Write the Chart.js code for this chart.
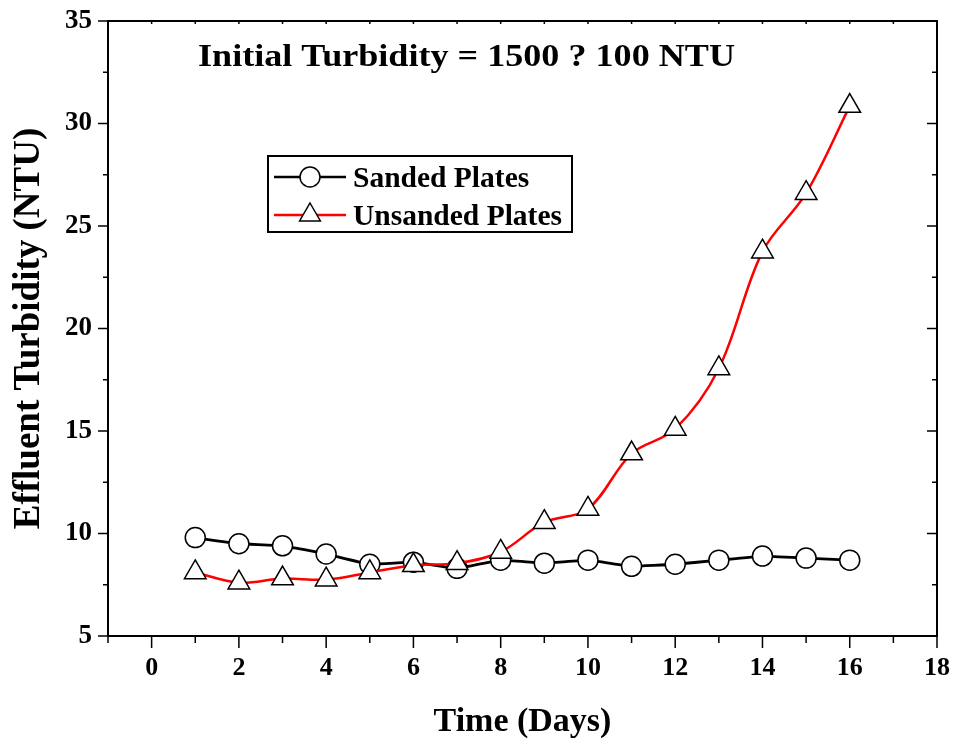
<!DOCTYPE html>
<html>
<head>
<meta charset="utf-8">
<script src="https://cdn.jsdelivr.net/npm/chart.js@4"></script>
<style>
  html, body { margin: 0; padding: 0; background: #fff; }
  #wrap { width: 953px; height: 740px; }
</style>
</head>
<body>
<div id="wrap"><canvas id="myChart" width="953" height="740"></canvas></div>
<script>
// datos
const days = [1, 2, 3, 4, 5, 6, 7, 8, 9, 10, 11, 12, 13, 14, 15, 16];
const sanded = [9.8, 9.5, 9.4, 9.0, 8.5, 8.6, 8.3, 8.7, 8.55, 8.7, 8.4, 8.5, 8.7, 8.9, 8.8, 8.7];
const unsanded = [8.1, 7.6, 7.8, 7.75, 8.1, 8.45, 8.55, 9.1, 10.55, 11.2, 13.9, 15.1, 18.05, 23.75, 26.6, 30.85];
const seriesNames = ['Sanded Plates', 'Unsanded Plates'];
const chartTitle = 'Initial Turbidity = 1500 ? 100 NTU';
const xTitle = 'Time (Days)';
const yTitle = 'Effluent Turbidity (NTU)';

const FONT = '"Liberation Serif", "Times New Roman", serif';

function toPoints(xs, ys) {
    return xs.map((x, i) => ({x: x, y: ys[i]}));
}

// sin relleno extra por las etiquetas de los bordes
function noOverhang(s) {
    s.paddingTop = 0;
    s.paddingBottom = 0;
    s.paddingLeft = 0;
    s.paddingRight = 0;
}

// marcas de los ejes, recuadro, titulo y leyenda
const extras = {
    id: 'extras',
    afterDraw(chart) {
        const ctx = chart.ctx;
        const a = chart.chartArea;
        const xs = chart.scales.x;
        const ys = chart.scales.y;
        ctx.save();
        ctx.strokeStyle = '#000';
        ctx.lineWidth = 2;
        ctx.strokeRect(a.left, a.top, a.right - a.left, a.bottom - a.top);

        ctx.lineWidth = 1.5;
        ctx.beginPath();
        xs.ticks.forEach(t => {
            const px = xs.getPixelForValue(t.value);
            const major = t.value % 2 === 0;
            ctx.moveTo(px, a.bottom);
            ctx.lineTo(px, a.bottom + (major ? 12 : 7));
            ctx.moveTo(px, a.top);
            ctx.lineTo(px, a.top + 3);
        });
        ys.ticks.forEach(t => {
            const py = ys.getPixelForValue(t.value);
            const major = t.value % 5 === 0;
            ctx.moveTo(a.left, py);
            ctx.lineTo(a.left - (major ? 10 : 5), py);
            ctx.moveTo(a.right, py);
            ctx.lineTo(a.right - (major ? 10 : 5), py);
        });
        ctx.stroke();

        // titulo (algo ensanchado como en el original)
        ctx.fillStyle = '#000';
        ctx.textBaseline = 'alphabetic';
        ctx.textAlign = 'left';
        ctx.save();
        ctx.translate(198, 66);
        ctx.scale(1.165, 1);
        ctx.font = 'bold 31px ' + FONT;
        ctx.fillText(chartTitle, 0, 0);
        ctx.restore();

        // leyenda
        ctx.lineWidth = 2;
        ctx.strokeStyle = '#000';
        ctx.strokeRect(268, 156, 304, 76);
        const rows = [
            {y: 177, color: '#000', shape: 'circle'},
            {y: 215, color: '#ff0000', shape: 'triangle'}
        ];
        rows.forEach((r, i) => {
            ctx.strokeStyle = r.color;
            ctx.lineWidth = 2.5;
            ctx.beginPath();
            ctx.moveTo(274, r.y);
            ctx.lineTo(346, r.y);
            ctx.stroke();
            ctx.fillStyle = '#fff';
            ctx.strokeStyle = '#000';
            ctx.lineWidth = 1.5;
            ctx.beginPath();
            if (r.shape === 'circle') {
                ctx.arc(310, r.y, 10, 0, Math.PI * 2);
            } else {
                const rad = 12;
                ctx.moveTo(310, r.y - rad);
                ctx.lineTo(310 + rad * 0.866, r.y + rad / 2);
                ctx.lineTo(310 - rad * 0.866, r.y + rad / 2);
                ctx.closePath();
            }
            ctx.fill();
            ctx.stroke();
            ctx.fillStyle = '#000';
            ctx.font = 'bold 29.5px ' + FONT;
            ctx.fillText(seriesNames[i], 353, r.y + 10);
        });
        ctx.restore();
    }
};

const ctx = document.getElementById('myChart').getContext('2d');
const chart = new Chart(ctx, {
    type: 'line',
    data: {
        datasets: [{
            label: seriesNames[1],
            data: toPoints(days, unsanded),
            borderColor: '#ff0000',
            borderWidth: 2.5,
            tension: 0.35,
            pointStyle: 'triangle',
            pointRadius: 12.5,
            pointBackgroundColor: '#fff',
            pointBorderColor: '#000',
            pointBorderWidth: 1.5
        }, {
            label: seriesNames[0],
            data: toPoints(days, sanded),
            borderColor: '#000',
            borderWidth: 2.8,
            tension: 0.1,
            pointStyle: 'circle',
            pointRadius: 10,
            pointBackgroundColor: '#fff',
            pointBorderColor: '#000',
            pointBorderWidth: 1.5
        }]
    },
    options: {
        responsive: false,
        animation: false,
        layout: {padding: {top: 21, right: 16, left: 0, bottom: 0}},
        plugins: {
            legend: {display: false},
            tooltip: {enabled: false}
        },
        scales: {
            x: {
                type: 'linear',
                min: -1,
                max: 18,
                grid: {display: false, drawTicks: false},
                border: {display: false},
                afterFit: s => { s.height = 104; noOverhang(s); },
                ticks: {
                    stepSize: 1,
                    autoSkip: false,
                    maxRotation: 0,
                    padding: 17,
                    color: '#000',
                    font: {family: FONT, size: 26, weight: 'bold'},
                    callback: v => (v % 2 === 0 ? v : '')
                },
                title: {
                    display: true,
                    text: xTitle,
                    color: '#000',
                    padding: {top: 0, bottom: -3},
                    font: {family: FONT, size: 34, weight: 'bold'}
                }
            },
            y: {
                min: 5,
                max: 35,
                grid: {display: false, drawTicks: false},
                border: {display: false},
                afterFit: s => { s.width = 108; noOverhang(s); },
                ticks: {
                    stepSize: 2.5,
                    autoSkip: false,
                    padding: 16,
                    color: '#000',
                    font: {family: FONT, size: 27, weight: 'bold'},
                    callback: v => (v % 5 === 0 ? v : '')
                },
                title: {
                    display: true,
                    text: yTitle,
                    color: '#000',
                    padding: {top: 7, bottom: 0},
                    font: {family: FONT, size: 37, weight: 'bold'}
                }
            }
        }
    },
    plugins: [extras]
});
</script>
</body>
</html>
